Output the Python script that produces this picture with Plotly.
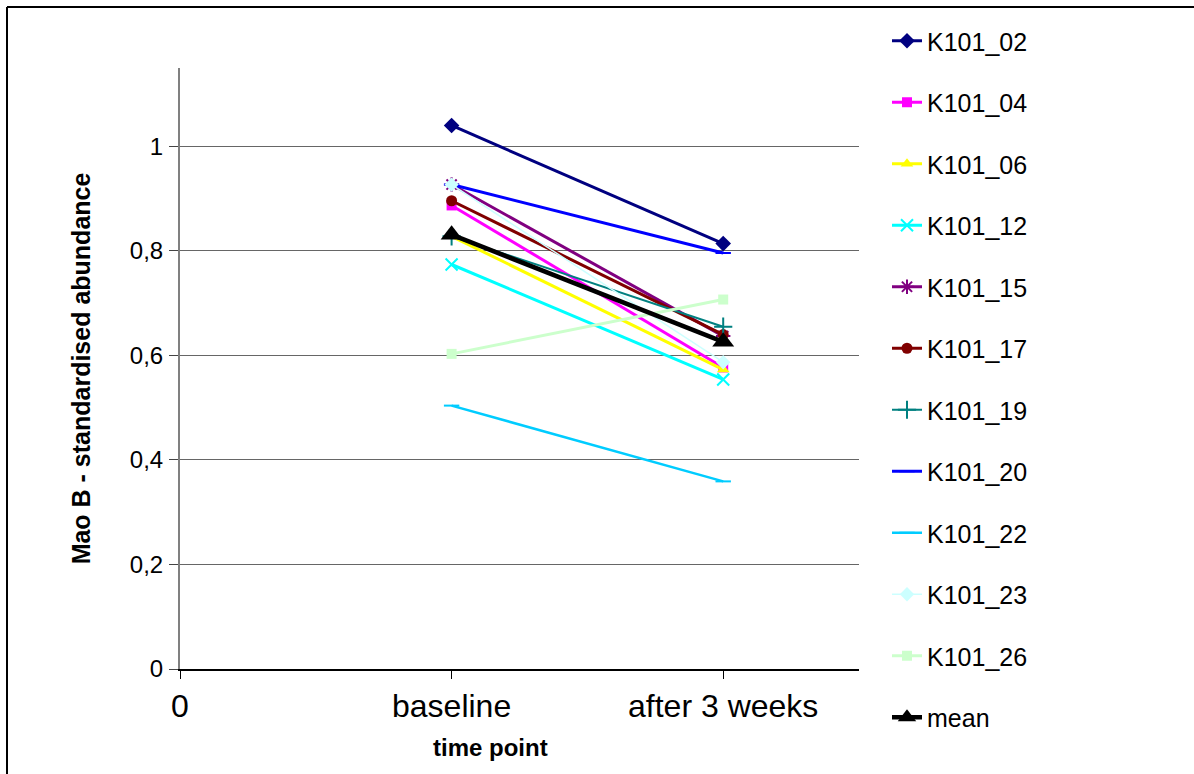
import plotly.graph_objects as go

# ---- data ----
time_points = [1, 2]
tick_vals = [0, 1, 2]
tick_text = ["0", "baseline", "after 3 weeks"]
series_names = ["K101_02", "K101_04", "K101_06", "K101_12", "K101_15", "K101_17",
                "K101_19", "K101_20", "K101_22", "K101_23", "K101_26", "mean"]
baseline_vals = [1.040, 0.887, 0.828, 0.774, 0.927, 0.896, 0.828, 0.927, 0.504, 0.927, 0.603, 0.831]
week3_vals = [0.814, 0.577, 0.573, 0.554, 0.637, 0.640, 0.655, 0.796, 0.359, 0.587, 0.707, 0.626]

# ---- styles ----
colors = ["#000080", "#FF00FF", "#FFFF00", "#00FFFF", "#800080", "#800000",
          "#008080", "#0000FF", "#00CCFF", "#CCFFFF", "#CCFFCC", "#000000"]
symbols = ["diamond", "square", "triangle-up", "x-thin-open", "asterisk-open", "circle",
           "cross-thin-open", "line-ew-open", "line-ew-open", "diamond", "square", "triangle-up"]
msizes = [12, 10, 11, 12, 12, 11, 13, 11, 11, 11, 10, 19]
lwidths = [3, 3, 3, 3, 3, 3, 2, 3, 2.5, 1.5, 3, 4.5]

fig = go.Figure()
for i, name in enumerate(series_names):
    open_sym = symbols[i].endswith("open")
    fig.add_trace(go.Scatter(
        x=time_points, y=[baseline_vals[i], week3_vals[i]],
        mode="lines+markers", name=name, legendgroup=name,
        line=dict(color=colors[i], width=lwidths[i]),
        marker=dict(symbol=symbols[i], size=msizes[i], color=colors[i],
                    line=dict(color=colors[i], width=2 if open_sym else 0)),
    ))

W, H = 1194, 774
L, R, T, B = 180, 859, 68, 669
pw, ph = R - L, B - T

def px(x):
    return (x - L) / pw

def py(y):
    return (B - y) / ph

fig.update_layout(
    width=W, height=H,
    margin=dict(l=L, r=W - R, t=T, b=H - B),
    paper_bgcolor="white", plot_bgcolor="white",
    font=dict(family="Liberation Sans, Arial, sans-serif", color="black"),
    showlegend=True,
    legend=dict(x=px(887), y=py(18), xanchor="left", yanchor="top",
                font=dict(size=25, family="Liberation Sans, Arial, sans-serif"),
                tracegroupgap=26, bgcolor="rgba(0,0,0,0)", maxheight=1000),
    xaxis=dict(range=[0, 2.5], tickvals=tick_vals, ticktext=tick_text,
               showgrid=False, zeroline=False, showline=True, linecolor="black", linewidth=1.5,
               ticks="outside", ticklen=8, tickcolor="black",
               tickfont=dict(size=32)),
    yaxis=dict(range=[0, 1.15], tickvals=[0, 0.2, 0.4, 0.6, 0.8, 1.0],
               ticktext=["0", "0,2", "0,4", "0,6", "0,8", "1"],
               showgrid=True, gridcolor="#666666", gridwidth=1,
               zeroline=False, showline=True, linecolor="#808080", linewidth=2,
               ticks="outside", ticklen=9, tickcolor="#444444",
               tickfont=dict(size=24), ticklabelstandoff=1,
               title=dict(text="<b>Mao B - standardised abundance</b>", standoff=32,
                          font=dict(size=25, family="Liberation Sans Narrow, Arial Narrow, Liberation Sans, Arial"))),
    annotations=[
        dict(text="<b>time point</b>", xref="paper", yref="paper", x=px(490), y=py(748),
             xanchor="center", yanchor="middle", showarrow=False,
             font=dict(size=24, family="Liberation Sans Narrow, Arial Narrow, Liberation Sans, Arial")),
    ],
    shapes=[
        dict(type="line", xref="paper", yref="paper", x0=px(7), x1=px(1200), y0=py(7), y1=py(7),
             line=dict(color="black", width=2)),
        dict(type="line", xref="paper", yref="paper", x0=px(7), x1=px(7), y0=py(7), y1=py(780),
             line=dict(color="black", width=2)),
    ],
)

fig.write_html("out.html")
